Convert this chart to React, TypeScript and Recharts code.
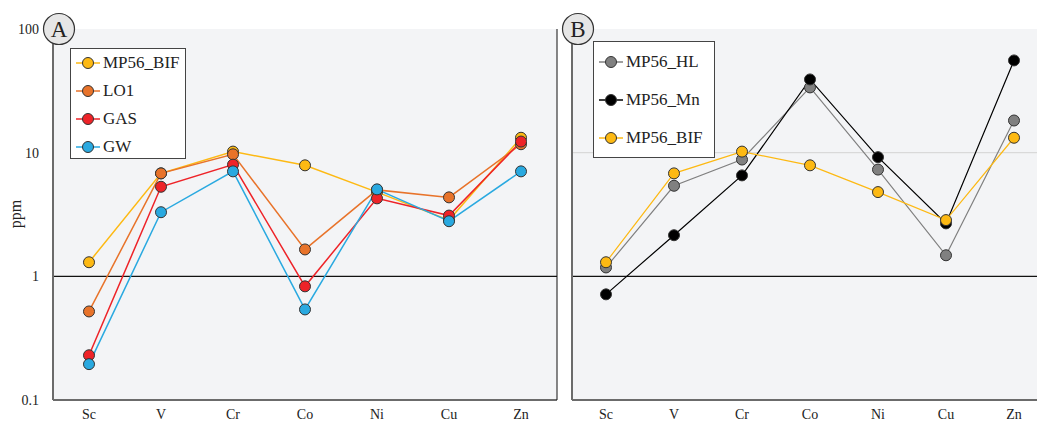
import React from 'react';
import { LineChart, Line, XAxis, YAxis, ReferenceLine, Legend, CartesianGrid } from 'recharts';

const elements = ['Sc', 'V', 'Cr', 'Co', 'Ni', 'Cu', 'Zn'];
const mp56Bif = [1.3, 6.8, 10.2, 7.9, 4.8, 2.85, 13.2];
const lo1 = [0.52, 6.8, 9.7, 1.65, 5.0, 4.35, 11.7];
const gas = [0.23, 5.3, 8.0, 0.83, 4.27, 3.1, 12.3];
const gw = [0.195, 3.3, 7.06, 0.54, 5.05, 2.79, 7.06];
const mp56Hl = [1.18, 5.4, 8.8, 33.7, 7.3, 1.48, 18.2];
const mp56Mn = [0.715, 2.15, 6.55, 39.1, 9.2, 2.68, 55.7];
const yTicks = [0.1, 1, 10, 100];

const data = elements.map((el, i) => ({
  el,
  bif: mp56Bif[i],
  lo1: lo1[i],
  gas: gas[i],
  gw: gw[i],
  hl: mp56Hl[i],
  mn: mp56Mn[i],
}));

const FONT = "'Liberation Serif', 'DejaVu Serif', serif";

const seriesA = [
  { key: 'bif', name: 'MP56_BIF', color: '#FDB913' },
  { key: 'lo1', name: 'LO1', color: '#E8732A' },
  { key: 'gas', name: 'GAS', color: '#EE2328' },
  { key: 'gw', name: 'GW', color: '#29A9E0' },
];
const seriesB = [
  { key: 'hl', name: 'MP56_HL', color: '#808080' },
  { key: 'mn', name: 'MP56_Mn', color: '#000000' },
  { key: 'bif', name: 'MP56_BIF', color: '#FDB913' },
];

const fmt = (v: number) => (v < 1 ? String(v) : String(Math.round(v)));

function LegendBox({ items, width, height, rowGap, padTop }: any) {
  return (
    <div
      style={{
        width,
        height,
        boxSizing: 'border-box',
        background: '#fff',
        border: '1.5px solid #444',
        paddingTop: padTop,
        fontFamily: FONT,
        fontSize: 17,
        color: '#222',
      }}
    >
      {items.map((s: any) => (
        <div key={s.name} style={{ display: 'flex', alignItems: 'center', height: rowGap, paddingLeft: 5, fontFamily: FONT }}>
          <svg width={24} height={14} style={{ marginRight: 3 }}>
            <line x1={0} y1={7} x2={24} y2={7} stroke={s.color} strokeWidth={1.5} />
            <circle cx={12} cy={7} r={5.5} fill={s.color} stroke="#333" strokeWidth={1} />
          </svg>
          <span style={{ fontFamily: FONT }}>{s.name}</span>
        </div>
      ))}
    </div>
  );
}

const tickStyle = { fontFamily: FONT, fontSize: 14, fill: '#222' };

export default function App() {
  return (
    <div style={{ position: 'absolute', left: 0, top: 0, width: 1037, height: 423, overflow: 'hidden', background: '#fff' }}>
      <div style={{ position: 'absolute', left: 0, top: 0 }}>
        <LineChart width={560} height={423} data={data} margin={{ top: 29, right: 2, bottom: 0, left: 0 }}>
          <CartesianGrid fill="#F3F4F6" stroke="none" horizontal={false} vertical={false} />
          <XAxis
            dataKey="el"
            scale="point"
            padding={{ left: 36, right: 36 }}
            axisLine={{ stroke: '#6b6b6b', strokeWidth: 2 }}
            tickLine={false}
            tickSize={0}
            tickMargin={9}
            height={23}
            tick={tickStyle}
            interval={0}
          />
          <XAxis xAxisId="top" dataKey="el" orientation="top" height={0} tick={false} tickLine={false} axisLine={{ stroke: '#111', strokeWidth: 1 }} scale="point" padding={{ left: 36, right: 36 }} />
          <YAxis
            type="number"
            scale="log"
            domain={[0.1, 100]}
            ticks={yTicks}
            allowDataOverflow
            width={53}
            axisLine={{ stroke: '#6b6b6b', strokeWidth: 2 }}
            tickLine={false}
            tickSize={0}
            tickMargin={14}
            tick={tickStyle}
            tickFormatter={fmt}
            interval={0}
          />
          <YAxis yAxisId="right" orientation="right" type="number" scale="log" domain={[0.1, 100]} allowDataOverflow width={1} tick={false} tickLine={false} axisLine={{ stroke: '#111', strokeWidth: 1 }} />
          <ReferenceLine y={1} stroke="#111" strokeWidth={1.2} />
          {seriesA.map((s) => (
            <Line
              key={s.key}
              dataKey={s.key}
              name={s.name}
              stroke={s.color}
              strokeWidth={1.5}
              dot={{ r: 5.5, fill: s.color, stroke: '#333', strokeWidth: 1 }}
              isAnimationActive={false}
            />
          ))}
          <Legend
            layout="vertical"
            align="center"
            verticalAlign="middle"
            wrapperStyle={{ left: 70, top: 48, width: 116, height: 111 }}
            content={() => <LegendBox items={seriesA} width={116} height={111} rowGap={28} padTop={0} />}
          />
        </LineChart>
      </div>
      <div style={{ position: 'absolute', left: 560, top: 0 }}>
        <LineChart width={477} height={423} data={data} margin={{ top: 29, right: 0, bottom: 0, left: 0 }}>
          <CartesianGrid fill="#F3F4F6" stroke="none" horizontal={false} vertical={false} />
          <XAxis
            dataKey="el"
            scale="point"
            padding={{ left: 34, right: 23 }}
            axisLine={{ stroke: '#6b6b6b', strokeWidth: 2 }}
            tickLine={false}
            tickSize={0}
            tickMargin={9}
            height={23}
            tick={tickStyle}
            interval={0}
          />
          <XAxis xAxisId="top" dataKey="el" orientation="top" height={0} tick={false} tickLine={false} axisLine={{ stroke: '#111', strokeWidth: 1 }} scale="point" padding={{ left: 34, right: 23 }} />
          <YAxis
            type="number"
            scale="log"
            domain={[0.1, 100]}
            ticks={yTicks}
            allowDataOverflow
            width={12}
            axisLine={{ stroke: '#6b6b6b', strokeWidth: 2 }}
            tickLine={false}
            tick={false}
          />
          <ReferenceLine y={10} stroke="#d9d9d9" strokeWidth={1.2} />
          <ReferenceLine y={1} stroke="#111" strokeWidth={1.2} />
          {seriesB.map((s) => (
            <Line
              key={s.key}
              dataKey={s.key}
              name={s.name}
              stroke={s.color}
              strokeWidth={1.2}
              dot={{ r: 5.5, fill: s.color, stroke: '#333', strokeWidth: 1 }}
              isAnimationActive={false}
            />
          ))}
          <Legend
            layout="vertical"
            align="center"
            verticalAlign="middle"
            wrapperStyle={{ left: 33, top: 41, width: 122, height: 117 }}
            content={() => <LegendBox items={seriesB} width={122} height={117} rowGap={38} padTop={1} />}
          />
        </LineChart>
      </div>
      <svg width={1037} height={423} style={{ position: 'absolute', left: 0, top: 0, pointerEvents: 'none' }}>
        <circle cx={59} cy={29} r={15.5} fill="#E6E6E6" stroke="#333" strokeWidth={1.2} />
        <text x={59} y={37} textAnchor="middle" fontFamily={FONT} fontSize={23} fill="#222">A</text>
        <circle cx={578} cy={29} r={15.5} fill="#E6E6E6" stroke="#333" strokeWidth={1.2} />
        <text x={578} y={37} textAnchor="middle" fontFamily={FONT} fontSize={23} fill="#222">B</text>
        <text x={21} y={214} textAnchor="middle" fontFamily={FONT} fontSize={16} fill="#222" transform="rotate(-90 21 214)">ppm</text>
      </svg>
    </div>
  );
}
